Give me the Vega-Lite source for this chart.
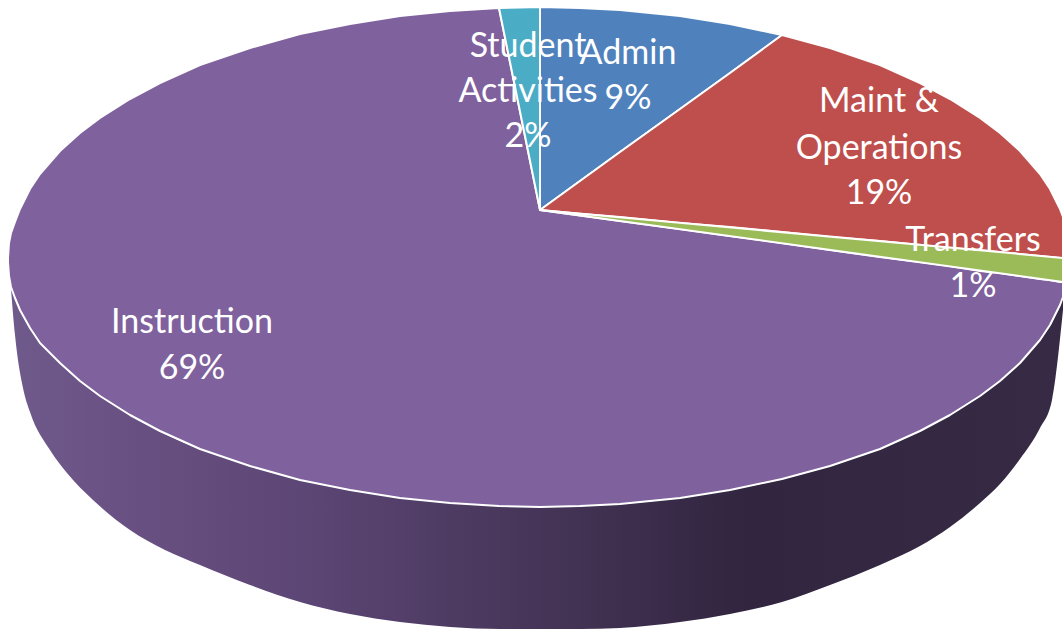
{
  "$schema": "https://vega.github.io/schema/vega-lite/v6.json",
  "width": 1063,
  "height": 631,
  "padding": 0,
  "autosize": {"type": "none"},
  "background": "white",
  "config": {"view": {"stroke": null}},
  "datasets": {
    "wall": [
      {"x":11,"y":287,"y2":289},{"x":15,"y":298,"y2":335},{"x":23,"y":315,"y2":388},{"x":30,"y":328,"y2":412},{"x":50,"y":353,"y2":450},{"x":67,"y":370,"y2":473},{"x":93,"y":391,"y2":500},{"x":130,"y":415,"y2":530},{"x":165,"y":434,"y2":550},{"x":200,"y":449,"y2":565},{"x":250,"y":466,"y2":585},{"x":300,"y":480,"y2":602},{"x":350,"y":490,"y2":614},{"x":400,"y":498,"y2":622},{"x":450,"y":503,"y2":627},{"x":500,"y":506,"y2":629},{"x":540,"y":507,"y2":629},{"x":580,"y":506,"y2":629},{"x":620,"y":504,"y2":628},{"x":680,"y":498,"y2":622},{"x":730,"y":490,"y2":614},{"x":782,"y":479,"y2":602},{"x":830,"y":466,"y2":585},{"x":880,"y":449,"y2":565},{"x":920,"y":431,"y2":546},{"x":950,"y":415,"y2":527},{"x":980,"y":396,"y2":503},{"x":1000,"y":381,"y2":484},{"x":1020,"y":363,"y2":459},{"x":1040,"y":340,"y2":428},{"x":1052,"y":322,"y2":400},{"x":1063,"y":297,"y2":310}
    ],
    "slices": [
      {"slice":"Instruction","x":8,"y":258,"y2":262},{"slice":"Instruction","x":9,"y":243,"y2":276},{"slice":"Instruction","x":11,"y":233,"y2":287},{"slice":"Instruction","x":15,"y":222,"y2":298},{"slice":"Instruction","x":20,"y":209,"y2":310},{"slice":"Instruction","x":30,"y":189,"y2":328},{"slice":"Instruction","x":40,"y":174,"y2":343},{"slice":"Instruction","x":60,"y":151,"y2":363},{"slice":"Instruction","x":80,"y":133,"y2":381},{"slice":"Instruction","x":100,"y":118,"y2":396},{"slice":"Instruction","x":130,"y":99,"y2":415},{"slice":"Instruction","x":160,"y":83,"y2":431},{"slice":"Instruction","x":200,"y":65,"y2":449},{"slice":"Instruction","x":250,"y":48,"y2":466},{"slice":"Instruction","x":300,"y":34,"y2":480},{"slice":"Instruction","x":350,"y":24,"y2":490},{"slice":"Instruction","x":400,"y":16,"y2":498},{"slice":"Instruction","x":450,"y":11,"y2":503},{"slice":"Instruction","x":499,"y":8,"y2":506},{"slice":"Instruction","x":540,"y":210,"y2":507},{"slice":"Instruction","x":580,"y":215.5,"y2":506},{"slice":"Instruction","x":620,"y":221,"y2":504},{"slice":"Instruction","x":680,"y":229,"y2":498},{"slice":"Instruction","x":730,"y":236,"y2":490},{"slice":"Instruction","x":782,"y":243,"y2":479},{"slice":"Instruction","x":830,"y":250,"y2":466},{"slice":"Instruction","x":880,"y":257,"y2":449},{"slice":"Instruction","x":920,"y":262,"y2":431},{"slice":"Instruction","x":950,"y":266,"y2":415},{"slice":"Instruction","x":980,"y":271,"y2":396},{"slice":"Instruction","x":1000,"y":273,"y2":381},{"slice":"Instruction","x":1020,"y":276,"y2":363},{"slice":"Instruction","x":1040,"y":279,"y2":340},{"slice":"Instruction","x":1050,"y":280,"y2":325},{"slice":"Instruction","x":1060,"y":282,"y2":305},{"slice":"Instruction","x":1063,"y":282,"y2":297},
      {"slice":"Student Activities","x":499,"y":8,"y2":8},{"slice":"Student Activities","x":520,"y":7.5,"y2":111.5},{"slice":"Student Activities","x":540,"y":7,"y2":210},
      {"slice":"Admin","x":540,"y":7,"y2":210},{"slice":"Admin","x":580,"y":8,"y2":181},{"slice":"Admin","x":620,"y":10,"y2":152},{"slice":"Admin","x":680,"y":16,"y2":109},{"slice":"Admin","x":730,"y":24,"y2":73},{"slice":"Admin","x":782,"y":35,"y2":35},
      {"slice":"Maint & Operations","x":540,"y":210,"y2":210},{"slice":"Maint & Operations","x":580,"y":181,"y2":213.7},{"slice":"Maint & Operations","x":620,"y":152,"y2":217},{"slice":"Maint & Operations","x":680,"y":109,"y2":223},{"slice":"Maint & Operations","x":730,"y":73,"y2":227},{"slice":"Maint & Operations","x":782,"y":35,"y2":232},{"slice":"Maint & Operations","x":830,"y":48,"y2":237},{"slice":"Maint & Operations","x":880,"y":65,"y2":241},{"slice":"Maint & Operations","x":920,"y":83,"y2":245},{"slice":"Maint & Operations","x":950,"y":99,"y2":248},{"slice":"Maint & Operations","x":980,"y":118,"y2":250},{"slice":"Maint & Operations","x":1000,"y":133,"y2":252},{"slice":"Maint & Operations","x":1020,"y":151,"y2":254},{"slice":"Maint & Operations","x":1040,"y":174,"y2":256},{"slice":"Maint & Operations","x":1050,"y":189,"y2":257},{"slice":"Maint & Operations","x":1060,"y":209,"y2":258},{"slice":"Maint & Operations","x":1063,"y":217,"y2":258},
      {"slice":"Transfers","x":540,"y":210,"y2":210},{"slice":"Transfers","x":1063,"y":258,"y2":282}
    ],
    "labels": [
      {"text":"Instruction","x":192,"y":323},{"text":"69%","x":192,"y":369},
      {"text":"Student","x":528,"y":47},{"text":"Activities","x":528,"y":92},{"text":"2%","x":528,"y":137},
      {"text":"Admin","x":628,"y":54},{"text":"9%","x":628,"y":99},
      {"text":"Maint &","x":879,"y":102},{"text":"Operations","x":879,"y":149},{"text":"19%","x":879,"y":194},
      {"text":"Transfers","x":973,"y":241},{"text":"1%","x":973,"y":287}
    ]
  },
  "layer": [
    {
      "data": {"name": "wall"},
      "mark": {"type": "area", "interpolate": "monotone", "color": {"gradient": "linear", "x1": 0, "x2": 1, "y1": 0, "y2": 0, "stops": [
        {"offset": 0, "color": "#6f5a8c"},
        {"offset": 0.1, "color": "#6a5183"},
        {"offset": 0.28, "color": "#5c4675"},
        {"offset": 0.5, "color": "#463558"},
        {"offset": 0.7, "color": "#31253f"},
        {"offset": 1, "color": "#362a44"}
      ]}},
      "encoding": {
        "x": {"field": "x", "type": "quantitative", "axis": null, "scale": {"domain": [0, 1063], "nice": false}},
        "y": {"field": "y", "type": "quantitative", "axis": null, "scale": {"domain": [0, 631], "nice": false, "reverse": true}},
        "y2": {"field": "y2"}
      }
    },
    {
      "data": {"name": "slices"},
      "mark": {"type": "area", "stroke": "white", "strokeWidth": 2, "strokeJoin": "round", "opacity": 1},
      "encoding": {
        "x": {"field": "x", "type": "quantitative", "axis": null, "scale": {"domain": [0, 1063], "nice": false}},
        "y": {"field": "y", "type": "quantitative", "axis": null, "scale": {"domain": [0, 631], "nice": false, "reverse": true}},
        "y2": {"field": "y2"},
        "color": {"field": "slice", "type": "nominal", "legend": null, "sort": ["Instruction", "Student Activities", "Admin", "Maint & Operations", "Transfers"], "scale": {"domain": ["Instruction", "Student Activities", "Admin", "Maint & Operations", "Transfers"], "range": ["#7F619E", "#4BACC6", "#4F81BD", "#BE4F4C", "#9BBB59"]}}
      }
    },
    {
      "data": {"name": "labels"},
      "mark": {"type": "text", "color": "white", "font": "Lato", "fontSize": 34, "align": "center", "baseline": "middle"},
      "encoding": {
        "x": {"field": "x", "type": "quantitative", "axis": null, "scale": {"domain": [0, 1063], "nice": false}},
        "y": {"field": "y", "type": "quantitative", "axis": null, "scale": {"domain": [0, 631], "nice": false, "reverse": true}},
        "text": {"field": "text", "type": "nominal"}
      }
    }
  ]
}
